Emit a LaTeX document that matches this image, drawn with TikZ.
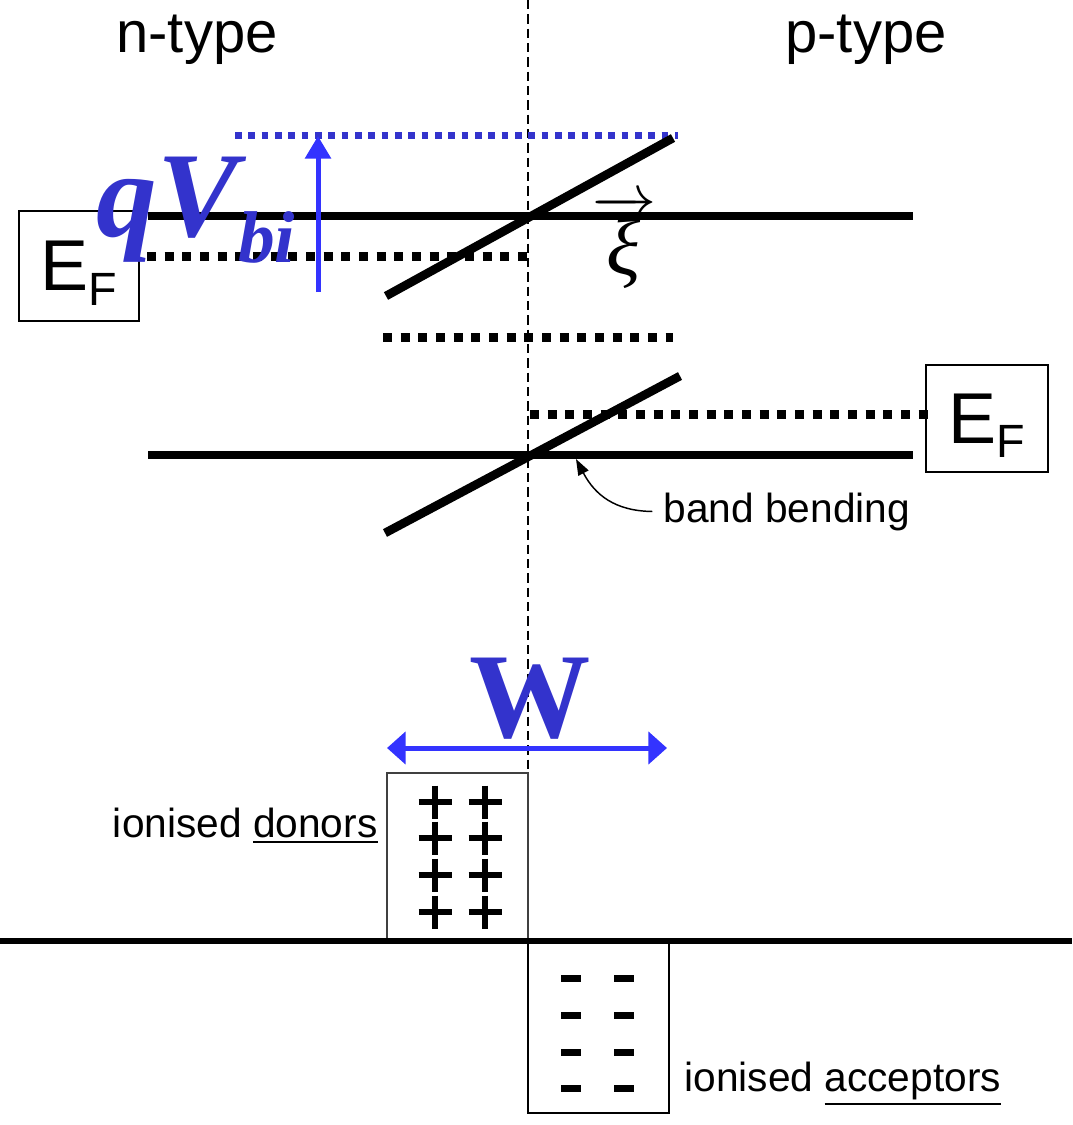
\RequirePackage{fix-cm}
\documentclass[tikz,border=0pt]{standalone}
\usepackage{amsmath}
\usepackage{fontspec}
\setmainfont{Liberation Sans}
\newfontfamily\serifbi{Liberation Serif}
\usetikzlibrary{arrows.meta}

\definecolor{qvblue}{RGB}{51,51,204}
\definecolor{arrblue}{RGB}{51,51,255}

\newcommand{\fermiEF}{E\smash{\raisebox{-11pt}{\fontsize{35}{35}\selectfont F}}}

\tikzset{every picture/.style={line width=0.75pt}}
\tikzset{
  bandline/.style={line width=6.5pt},
  fermiline/.style={line width=6.75pt, dash pattern=on 6.75pt off 6.5pt},
  bluedots/.style={color=qvblue, line width=5pt, dash pattern=on 5pt off 5pt},
  junction/.style={line width=1.1pt, dash pattern=on 7pt off 3.75pt},
  efbox/.style={draw, fill=white, line width=1.5pt, inner sep=0pt, font=\fontsize{54}{54}\selectfont},
  plusbar/.style={line width=4.2pt},
  minusbar/.style={line width=5.25pt},
  smalltext/.style={inner sep=0pt, font=\fontsize{30.5}{36}\selectfont},
  bigtext/.style={inner sep=0pt, font=\fontsize{43.5}{50}\selectfont},
  bluearrow/.style={color=arrblue, line width=3.75pt},
}

\begin{document}
\begin{tikzpicture}[x=0.75pt,y=0.75pt,yscale=-1,xscale=1]
\useasboundingbox (0,0) rectangle (1072,1125);

%Straight Lines [junction]
\draw [junction] (528,0) -- (528,1112);

% Text Node
\node [bigtext, anchor=base] (ntype) at (197,52) {n-type};
% Text Node
\node [bigtext, anchor=base] (ptype) at (866,52) {p-type};

%Straight Lines [blue level]
\draw [bluedots] (235,135.5) -- (678,135.5);

%Straight Lines [bands]
\draw [bandline] (148,216) -- (913,216);
\draw [bandline] (386,296) -- (673,138);
\draw [bandline] (148,455) -- (913,455);
\draw [bandline] (385,533) -- (680,376);

%Straight Lines [fermi levels]
\draw [fermiline] (147,256) -- (528,256);
\draw [fermiline] (383,337) -- (673,337);

%Shape: Rectangle [E_F boxes]
\node [efbox, minimum width=90pt, minimum height=82.5pt] (efn) at (79,266) {\fermiEF};
\node [efbox, minimum width=91pt, minimum height=80pt] (efp) at (987,418.5) {\fermiEF};
\draw [fermiline] (530,414) -- (933,414);

%Straight Lines [qV_bi arrow]
\coordinate (vbot) at (318,292);
\coordinate (vtop) at (318,136);
\draw [bluearrow, -{Triangle[length=17pt,width=19pt]}] (vbot) -- (vtop);

% Text Node
\node [anchor=base west, inner sep=0pt, text=qvblue, font={\serifbi\bfseries\itshape\fontsize{91}{91}\selectfont}] (qvbi) at (96,236) {qV\raisebox{-19.5pt}{\fontsize{55}{55}\selectfont bi}};

% Text Node
\node [inner sep=0pt, font=\fontsize{48}{48}\selectfont] (field) at (624,242) {$\overrightarrow{\text{\hspace{4pt}\fontsize{60}{60}\serifbi\itshape ξ\hspace{4pt}}}$};

% Text Node
\node [smalltext, anchor=base west] (bend) at (663,522) {band bending};
\coordinate (bendtip) at (576,459);
\draw [-{Triangle[length=12pt,width=8.5pt]}, line width=1.1pt] ([xshift=-8pt]bend.west) .. controls (615,511) and (595,495) .. (bendtip);

% Text Node
\node [anchor=base, inner sep=0pt, text=qvblue, font={\serifbi\bfseries\fontsize{91}{91}\selectfont}] (width) at (530,737) {W};
\coordinate (wleft) at (387,748);
\coordinate (wright) at (667,748);
\draw [bluearrow, {Triangle[length=14pt,width=24pt]}-{Triangle[length=14pt,width=24pt]}] (wleft) -- (wright);

%Shape: Rectangle [charge boxes]
\draw [line width=1.1pt, draw=black!75] (387,941) -- (387,773) -- (528,773) -- (528,941);
\draw [line width=1.5pt] (528,941) -- (528,1113) -- (669,1113) -- (669,941);
%Straight Lines [axis]
\draw [line width=4.5pt] (0,941) -- (1072,941);

% ionised donors
\foreach \x in {435,485}
  \foreach \y in {802,838,875,912}
    \draw [plusbar] (\x-16.5,\y) -- (\x+16.5,\y) (\x,\y-16.5) -- (\x,\y+16.5);
% ionised acceptors
\foreach \x in {571,624}
  \foreach \y in {978,1015,1052,1088}
    \draw [minusbar] (\x-10,\y) -- (\x+10,\y);

% Text Node
\node [smalltext, anchor=base east] (donors) at (378,837) {ionised \underline{donors}};
% Text Node
\node [smalltext, anchor=base west] (acceptors) at (684,1091) {ionised \underline{acceptors}};

\end{tikzpicture}
\end{document}
